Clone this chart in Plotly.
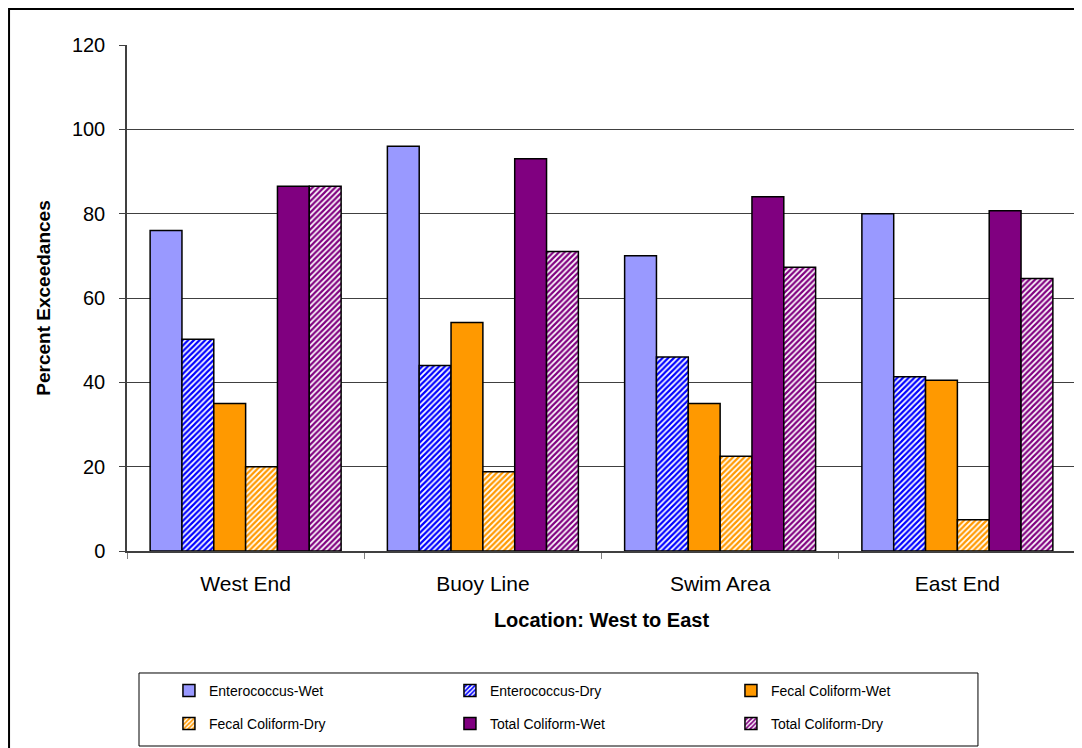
import plotly.graph_objects as go

locations = ["West End", "Buoy Line", "Swim Area", "East End"]

ent_wet = [76, 96, 70, 80]
ent_dry = [50.2, 44, 46, 41.3]
fec_wet = [35, 54.2, 35, 40.5]
fec_dry = [20, 18.8, 22.5, 7.4]
tot_wet = [86.5, 93, 84, 80.7]
tot_dry = [86.5, 71, 67.3, 64.6]

series = [
    ("Enterococcus-Wet", ent_wet, "#9999FF", None),
    ("Enterococcus-Dry", ent_dry, "#0000FF", "/"),
    ("Fecal Coliform-Wet", fec_wet, "#FF9900", None),
    ("Fecal Coliform-Dry", fec_dry, "#FF9900", "/"),
    ("Total Coliform-Wet", tot_wet, "#800080", None),
    ("Total Coliform-Dry", tot_dry, "#800080", "/"),
]

FONT = "Liberation Sans, Arial, sans-serif"

fig = go.Figure()
for i, (name, vals, color, shape) in enumerate(series):
    if shape:
        marker = dict(color="white",
                      pattern=dict(shape=shape, fgcolor=color, bgcolor="white",
                                   fgopacity=1, size=4, solidity=0.55,
                                   fillmode="overlay"),
                      line=dict(color="black", width=1.5))
    else:
        marker = dict(color=color, line=dict(color="black", width=1.5))
    # first three entries in the top legend row, the rest in the second
    fig.add_trace(go.Bar(x=locations, y=vals, name=name, marker=marker,
                         legend="legend" if i < 3 else "legend2"))

leg = dict(orientation="h", x=0.0442, xanchor="left", yanchor="middle",
           entrywidth=236, entrywidthmode="pixels", borderwidth=0,
           bgcolor="rgba(0,0,0,0)", font=dict(size=14, family=FONT),
           traceorder="normal", itemwidth=30)

fig.update_layout(
    width=1082, height=748,
    barmode="group", bargap=0.195, bargroupgap=0,
    plot_bgcolor="white", paper_bgcolor="white",
    margin=dict(l=119, r=14, t=37, b=205, autoexpand=False),
    font=dict(family=FONT, color="black", size=17),
    showlegend=True,
    legend=dict(leg, y=-0.2767),
    legend2=dict(leg, y=-0.3419),
    xaxis=dict(
        title=dict(text="<b>Location: West to East</b>", font=dict(size=20), standoff=19),
        showline=True, linecolor="#404040", linewidth=1.5,
        ticks="outside", tickson="boundaries", ticklen=6, tickcolor="#808080",
        ticklabelstandoff=13, tickfont=dict(size=21), showgrid=False,
    ),
    yaxis=dict(
        title=dict(text="<b>Percent Exceedances</b>", font=dict(size=19), standoff=16),
        range=[0, 120], dtick=20, tickmode="linear",
        showline=True, linecolor="#404040", linewidth=1.5,
        ticks="outside", ticklen=6, tickcolor="#404040",
        ticklabelstandoff=10, tickfont=dict(size=20),
        showgrid=True, gridcolor="#404040", gridwidth=1, zeroline=False,
    ),
)

# plot-area right edge, legend box and outer chart frame
fig.add_shape(type="line", xref="paper", yref="paper", x0=1, x1=1, y0=0, y1=1,
              line=dict(color="#909090", width=1.5))
fig.add_shape(type="rect", xref="paper", yref="paper",
              x0=0.01265, x1=0.8967, y0=-0.3854, y1=-0.2411,
              line=dict(color="black", width=1))
fig.add_shape(type="rect", xref="paper", yref="paper",
              x0=-0.1243, x1=1.018, y0=-0.43, y1=1.0711,
              line=dict(color="black", width=2))

fig.write_html("out.html")
